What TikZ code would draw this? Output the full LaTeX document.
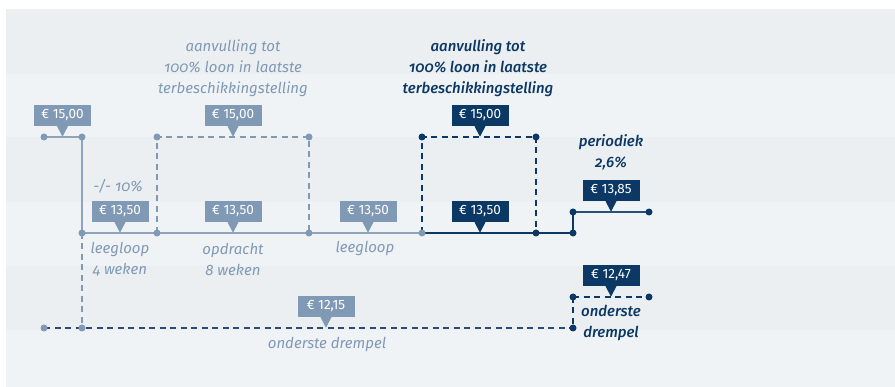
\documentclass[tikz,border=0pt]{standalone}
\usepackage{fontspec}
\setmainfont{Fira Sans}[Numbers=OldStyle]
\newfontfamily\labelfont{Fira Sans}[Numbers=Lining]
\newfontfamily\darkfont{Fira Sans Medium Italic}[Numbers=OldStyle]
\usetikzlibrary{calc}
\definecolor{lightc}{HTML}{8099B4}
\definecolor{lightline}{HTML}{8FA4BC}
\definecolor{darkc}{HTML}{0B3864}
\definecolor{navydash}{HTML}{2A4B72}
\definecolor{stripeA}{HTML}{ECEFF2}
\definecolor{stripeB}{HTML}{F0F3F6}
\tikzset{
  dotL/.style={circle,fill=lightc,inner sep=0pt,minimum size=7pt},
  dotD/.style={circle,fill=darkc,inner sep=0pt,minimum size=7pt},
  lineL/.style={draw=lightline,line width=1.6pt},
  lineD/.style={draw=darkc,line width=1.6pt},
  dashL/.style={draw=lightc,line width=1.4pt,dash pattern=on 6pt off 4.5pt},
  dashD/.style={draw=darkc,line width=1.4pt,dash pattern=on 6pt off 4.5pt},
  dashN/.style={draw=navydash,line width=1.4pt,dash pattern=on 6pt off 4.5pt},
  pricebox/.style={inner sep=0pt,minimum width=57pt,minimum height=21pt,text=white,font=\labelfont\fontsize{13.5}{15}\selectfont},
  txtL/.style={align=center,text=lightc,font=\fontsize{15}{21}\selectfont\itshape},
  txtD/.style={align=center,text=darkc,font=\darkfont\fontsize{15}{21}\selectfont},
}
\newcommand{\pointer}[2]{\fill[#2] ($(#1.south)+(-5.5,0)$) -- ($(#1.south)+(5.5,0)$) -- ($(#1.south)+(0,10.5)$) -- cycle;}
\begin{document}
\begin{tikzpicture}[x=1pt,y=-1pt]
\useasboundingbox (0,0) rectangle (895,387);
\fill[white] (0,0) rectangle (895,387);
\fill[stripeA] (6,9) rectangle (895,74);
\fill[stripeB] (6,74) rectangle (895,137);
\fill[stripeA] (6,137) rectangle (895,202);
\fill[stripeB] (6,202) rectangle (895,266);
\fill[stripeA] (6,266) rectangle (895,330);
\fill[stripeB] (6,330) rectangle (895,387);

% coordinates of dots
\coordinate (a1) at (44,137);
\coordinate (a2) at (82,137);
\coordinate (b1) at (82,233);
\coordinate (b2) at (157,233);
\coordinate (b3) at (309,233);
\coordinate (b4) at (422,233);
\coordinate (c1) at (157,137);
\coordinate (c2) at (309,137);
\coordinate (d1) at (422,137);
\coordinate (d2) at (536,137);
\coordinate (e1) at (536,233);
\coordinate (e2) at (573,233);
\coordinate (f1) at (573,212);
\coordinate (f2) at (649,212);
\coordinate (g1) at (573,297);
\coordinate (g2) at (649,297);
\coordinate (h0) at (573,328);
\coordinate (h1) at (44,328);
\coordinate (h2) at (82,328);

% light lines
\draw[lineL] (a1) -- (a2) -- (b1) -- (b4);
\draw[dashL] (b1) -- (h2);
\draw[dashL] (b2) -- (c1) -- (c2) -- (b3);
% dark lines
\draw[dashD] (b4) -- (d1) -- (d2) -- (e1);
\draw[lineD] (b4) -- (e2) -- (f1);
\draw[draw=darkc!75!lightc,line width=1.6pt] (f1) -- (f2);
\draw[dashD] (g1) -- (g2);
\draw[dashD] (g1) -- (h0);
\draw[dashN] (h1) -- (h0);

% dots
\foreach \p in {a1,a2,b1,b2,b3,b4,c1,c2,h1,h2} \node[dotL] at (\p) {};
\foreach \p in {d1,d2,e1,e2,f1,f2,g1,g2,h0} \node[dotD] at (\p) {};

% price boxes
\node[pricebox,fill=lightc] (p1) at (62.5,115.5) {€ 15,00}; \pointer{p1}{lightc}
\node[pricebox,fill=lightc] (p2) at (233,115.5) {€ 15,00}; \pointer{p2}{lightc}
\node[pricebox,fill=darkc] (p3) at (480,115.5) {€ 15,00}; \pointer{p3}{darkc}
\node[pricebox,fill=lightc] (p4) at (120,211.5) {€ 13,50}; \pointer{p4}{lightc}
\node[pricebox,fill=lightc] (p5) at (233,211.5) {€ 13,50}; \pointer{p5}{lightc}
\node[pricebox,fill=lightc] (p6) at (368,211.5) {€ 13,50}; \pointer{p6}{lightc}
\node[pricebox,fill=darkc] (p7) at (480,211.5) {€ 13,50}; \pointer{p7}{darkc}
\node[pricebox,fill=darkc] (p8) at (611,190.5) {€ 13,85}; \pointer{p8}{darkc}
\node[pricebox,fill=darkc] (p9) at (611,275.5) {€ 12,47}; \pointer{p9}{darkc}
\node[pricebox,fill=lightc] (p10) at (326,306.5) {€ 12,15}; \pointer{p10}{lightc}

% texts
\node[txtL] (t1) at (233,68) {aanvulling tot\\100\% loon in laatste\\terbeschikkingstelling};
\node[txtD] (t2) at (478,68) {aanvulling tot\\100\% loon in laatste\\terbeschikkingstelling};
\node[txtL] (t3) at (118,186) {-/- 10\%};
\node[txtL] (t4) at (120,259) {leegloop\\4 weken};
\node[txtL] (t5) at (233,259) {opdracht\\8 weken};
\node[txtL] (t6) at (365,248) {leegloop};
\node[txtL] (t7) at (327,344) {onderste drempel};
\node[txtD] (t8) at (611,152) {periodiek\\2,6\%};
\node[txtD] (t9) at (611,323) {onderste\\drempel};
\end{tikzpicture}
\end{document}
